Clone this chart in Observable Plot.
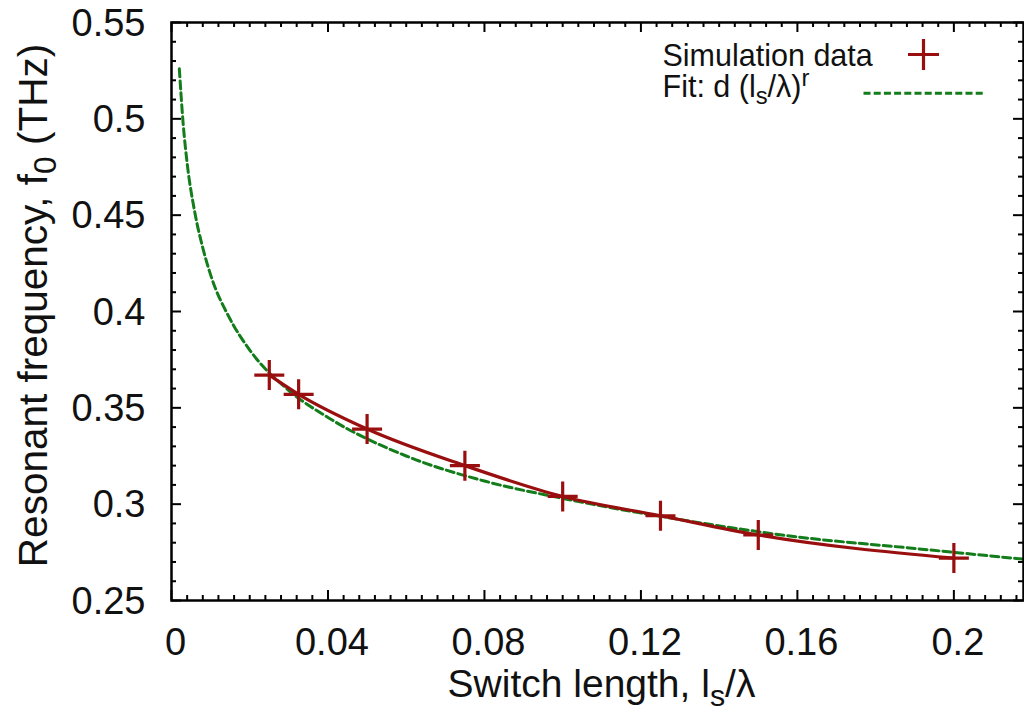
<!DOCTYPE html>
<html>
<head>
<meta charset="utf-8">
<script src="https://cdn.jsdelivr.net/npm/d3@7"></script>
<script src="https://cdn.jsdelivr.net/npm/@observablehq/plot@0.6"></script>
<style>
  html, body { margin: 0; padding: 0; background: #fff; }
  #chart { width: 1024px; height: 725px; }
</style>
</head>
<body>
<div id="chart"></div>
<script>
// ---- data ----
const switchLength = [0.025, 0.0325, 0.05, 0.075, 0.1, 0.125, 0.15, 0.2];
const resonantFreq = [0.367, 0.357, 0.339, 0.320, 0.304, 0.294, 0.284, 0.272];

// green dashed fit curve
const fitX = [0.002, 0.003, 0.004, 0.006, 0.008, 0.01, 0.015, 0.02, 0.03, 0.04, 0.06, 0.08, 0.1, 0.13, 0.16, 0.19, 0.22];
const fitY = [0.526, 0.497, 0.477, 0.451, 0.433, 0.419, 0.396, 0.380, 0.359, 0.345, 0.325, 0.312, 0.303, 0.292, 0.283, 0.277, 0.271];

// tick labels
const xTickValues = [0, 0.04, 0.08, 0.12, 0.16, 0.2];
const xTickLabels = ["0", "0.04", "0.08", "0.12", "0.16", "0.2"];
const yTickValues = [0.25, 0.3, 0.35, 0.4, 0.45, 0.5, 0.55];
const yTickLabels = ["0.25", "0.3", "0.35", "0.4", "0.45", "0.5", "0.55"];

const xLabel = "Switch length, l_{s}/λ";
const yLabel = "Resonant frequency, f_{0} (THz)";
const legendData = "Simulation data";
const legendFit = "Fit: d (l_{s}/λ)^{r}";

// ---- build ----
const points = switchLength.map((x, i) => ({x, y: resonantFreq[i]}));
const fit = fitX.map((x, i) => ({x, y: fitY[i]}));
const xMinor = d3.range(0, 0.2181, 0.004).map(v => +v.toFixed(4)).filter(v => !xTickValues.some(t => Math.abs(t - v) < 1e-6));
const yMinor = d3.range(0.25, 0.5501, 0.01).map(v => +v.toFixed(4)).filter(v => !yTickValues.some(t => Math.abs(t - v) < 1e-6));

const RED = "#990f0f";
const GREEN = "#127d1a";
const FONT = "'Liberation Sans', Arial, Helvetica, sans-serif";

const W = 1024, H = 725;
const mL = 171, mR = 1, mT = 22, mB = 125;
const PW = W - mL - mR, PH = H - mT - mB;

const plusSymbol = {draw(ctx, size) { const h = Math.sqrt(size / Math.PI); ctx.moveTo(-h, 0); ctx.lineTo(h, 0); ctx.moveTo(0, -h); ctx.lineTo(0, h); }};
const hLineSymbol = {draw(ctx, size) { const h = Math.sqrt(size / Math.PI); ctx.moveTo(-h, 0); ctx.lineTo(h, 0); }};

const majorLen = 10, minorLen = 5;

const chart = Plot.plot({
  width: W, height: H,
  marginLeft: mL, marginRight: mR, marginTop: mT, marginBottom: mB,
  style: {fontFamily: FONT, background: "#fff", overflow: "visible"},
  x: {domain: [0, 0.2178], axis: null},
  y: {domain: [0.25, 0.55], axis: null},
  marks: [
    // ticks (inward, mirrored on all four sides)
    Plot.ruleX(xTickValues, {x: d => d, insetTop: PH - majorLen, stroke: "#000", strokeWidth: 2}),
    Plot.ruleX(xTickValues, {x: d => d, insetBottom: PH - majorLen, stroke: "#000", strokeWidth: 2}),
    Plot.ruleX(xMinor, {x: d => d, insetTop: PH - minorLen, stroke: "#000", strokeWidth: 2}),
    Plot.ruleX(xMinor, {x: d => d, insetBottom: PH - minorLen, stroke: "#000", strokeWidth: 2}),
    Plot.ruleY(yTickValues, {y: d => d, insetRight: PW - majorLen, stroke: "#000", strokeWidth: 2}),
    Plot.ruleY(yTickValues, {y: d => d, insetLeft: PW - majorLen, stroke: "#000", strokeWidth: 2}),
    Plot.ruleY(yMinor, {y: d => d, insetRight: PW - minorLen, stroke: "#000", strokeWidth: 2}),
    Plot.ruleY(yMinor, {y: d => d, insetLeft: PW - minorLen, stroke: "#000", strokeWidth: 2}),
    // tick labels
    Plot.text(xTickValues, {x: d => d, text: (d, i) => xTickLabels[i], frameAnchor: "bottom", lineAnchor: "middle", dy: 42.5, dx: 4, fontSize: 38, fill: "#111"}),
    Plot.text(yTickValues, {y: d => d, text: (d, i) => yTickLabels[i], frameAnchor: "left", textAnchor: "end", lineAnchor: "middle", dx: -26, dy: 1, fontSize: 38, fill: "#111"}),
    // axis labels
    Plot.text([xLabel], {text: d => d, frameAnchor: "bottom", textAnchor: "middle", lineAnchor: "middle", dy: 84, dx: 4, fontSize: 39, fill: "#111"}),
    Plot.text([yLabel], {text: d => d, frameAnchor: "left", textAnchor: "middle", lineAnchor: "middle", rotate: -90, dx: -137, dy: -6, fontSize: 40.5, fill: "#111"}),
    // series
    Plot.line(fit, {x: "x", y: "y", stroke: GREEN, strokeWidth: 3, strokeDasharray: "8,4", curve: "monotone-x", clip: true}),
    Plot.line(points, {x: "x", y: "y", stroke: RED, strokeWidth: 3.2, curve: "monotone-x"}),
    Plot.dot(points, {x: "x", y: "y", symbol: plusSymbol, r: 15, stroke: RED, strokeWidth: 3.2, fill: "none"}),
    // legend
    Plot.text([legendData], {text: d => d, frameAnchor: "top-left", textAnchor: "start", lineAnchor: "middle", dx: 491, dy: 33.5, fontSize: 30.5, fill: "#111"}),
    Plot.text([legendFit], {text: d => d, frameAnchor: "top-left", textAnchor: "start", lineAnchor: "middle", dx: 491, dy: 65, fontSize: 30.5, fill: "#111"}),
    Plot.dot([legendData], {frameAnchor: "top-left", dx: 752, dy: 32, symbol: plusSymbol, r: 15.5, stroke: RED, strokeWidth: 3.2, fill: "none"}),
    Plot.dot([legendFit], {frameAnchor: "top-left", dx: 752, dy: 70.7, symbol: hLineSymbol, r: 60, stroke: GREEN, strokeWidth: 3, strokeDasharray: "7,3.2", fill: "none"}),
    Plot.frame({stroke: "#000", strokeWidth: 2.5})
  ]
});

// render l_{s}, f_{0}, ^{r} as real sub/superscripts
d3.select(chart).selectAll("text").each(function() {
  const t = this.textContent;
  if (!/[_^]\{/.test(t)) return;
  const parts = t.split(/([_^]\{[^}]*\})/).filter(s => s.length);
  this.textContent = "";
  const sel = d3.select(this);
  for (const p of parts) {
    const m = p.match(/^([_^])\{([^}]*)\}$/);
    const ts = sel.append("tspan");
    if (m) {
      ts.text(m[2]).attr("font-size", "0.78em").attr("baseline-shift", m[1] === "_" ? "-0.3em" : "0.45em");
    } else {
      ts.text(p);
    }
  }
});

document.getElementById("chart").appendChild(chart);
</script>
</body>
</html>
